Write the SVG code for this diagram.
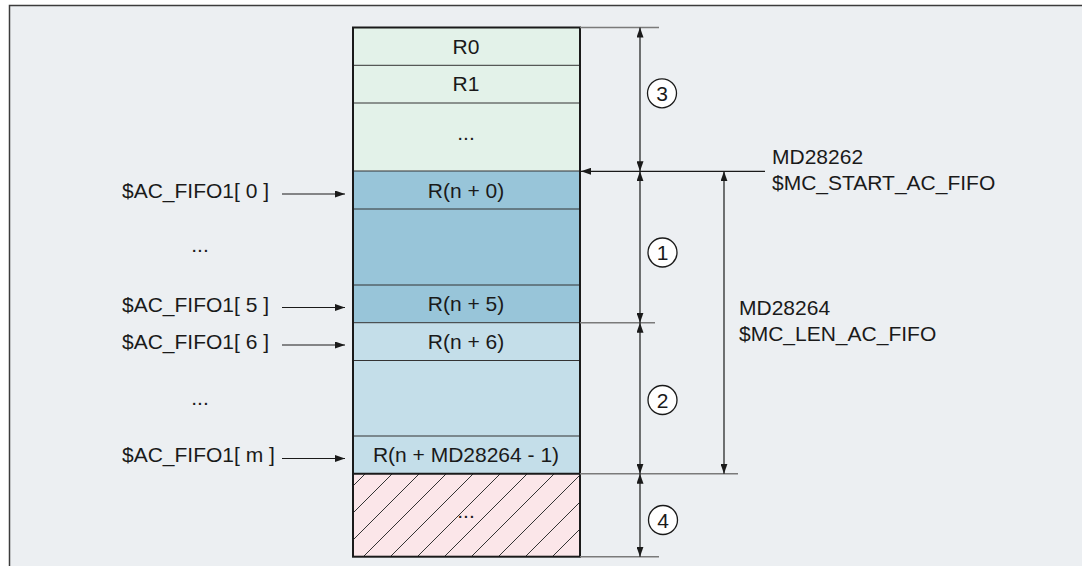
<svg xmlns="http://www.w3.org/2000/svg" width="1082" height="566" viewBox="0 0 1082 566">
<style>
text{font-family:"Liberation Sans",Arial,sans-serif;font-size:21px;fill:#1a1a1a}
.c{text-anchor:middle}
.row{stroke:#333;stroke-width:1}
.ext{stroke:#7a7a7a;stroke-width:1.5;fill:none}
.dim{stroke:#1a1a1a;stroke-width:1.2;fill:none;marker-start:url(#ah);marker-end:url(#ah)}
.arr{stroke:#1a1a1a;stroke-width:1.2;fill:none;marker-end:url(#ah)}
.num{fill:#fff;stroke:#1a1a1a;stroke-width:1.3}
</style>
<defs>
<marker id="ah" markerUnits="userSpaceOnUse" markerWidth="10" markerHeight="7" refX="10" refY="3.5" orient="auto-start-reverse">
<path d="M0,0 L10,3.5 L0,7 z" fill="#1a1a1a"/>
</marker>
<pattern id="hatch" patternUnits="userSpaceOnUse" x="353" y="0" width="27" height="27">
<rect width="27" height="27" fill="#FBE6E9"/>
<path d="M-1,28 L28,-1 M-14,14 L14,-14 M13,41 L41,13" stroke="#333" stroke-width="1"/>
</pattern>
</defs>
<rect x="9.5" y="5.5" width="1080" height="570" fill="#ECEFF2" stroke="#3c3c3c" stroke-width="1.5"/>

<g id="column">
<g id="seg-green">
<rect x="353" y="27.5" width="227" height="143.5" fill="#E3F2E9"/>
<line class="row" x1="353" y1="65.3" x2="580" y2="65.3"/>
<line class="row" x1="353" y1="103" x2="580" y2="103"/>
<text class="c" x="466" y="53.5">R0</text>
<text class="c" x="466" y="91">R1</text>
<text class="c" x="466" y="140">...</text>
</g>
<g id="seg-dark">
<rect x="353" y="171" width="227" height="151.7" fill="#98C5D9"/>
<line class="row" x1="353" y1="209" x2="580" y2="209"/>
<line class="row" x1="353" y1="285" x2="580" y2="285"/>
<line class="row" x1="353" y1="171" x2="580" y2="171"/>
<text class="c" x="466" y="197.5">R(n + 0)</text>
<text class="c" x="466" y="311">R(n + 5)</text>
</g>
<g id="seg-light">
<rect x="353" y="322.7" width="227" height="151" fill="#C4DEE9"/>
<line class="row" x1="353" y1="322.7" x2="580" y2="322.7"/>
<line class="row" x1="353" y1="360.5" x2="580" y2="360.5"/>
<line class="row" x1="353" y1="436" x2="580" y2="436"/>
<text class="c" x="466" y="348.5">R(n + 6)</text>
<text class="c" x="466" y="461.5">R(n + MD28264 - 1)</text>
</g>
<g id="seg-hatch">
<rect x="353" y="473.7" width="227" height="83" fill="url(#hatch)"/>
<line x1="353" y1="473.7" x2="580" y2="473.7" stroke="#1a1a1a" stroke-width="2"/>
<text class="c" x="466" y="518">...</text>
</g>
<rect x="353" y="27.5" width="227" height="529.2" fill="none" stroke="#1a1a1a" stroke-width="2"/>
</g>

<g id="left-labels">
<text x="122" y="198">$AC_FIFO1[ 0 ]</text>
<text class="c" x="200" y="252">...</text>
<text x="122" y="311.5">$AC_FIFO1[ 5 ]</text>
<text x="122" y="349">$AC_FIFO1[ 6 ]</text>
<text class="c" x="200" y="405">...</text>
<text x="122" y="462">$AC_FIFO1[ m ]</text>
</g>

<g id="right-labels">
<text x="772" y="164">MD28262</text>
<text x="772" y="190">$MC_START_AC_FIFO</text>
<text x="739" y="315">MD28264</text>
<text x="739" y="341">$MC_LEN_AC_FIFO</text>
</g>

<g id="callouts">
<g id="c3"><circle class="num" cx="662" cy="93.3" r="14.5"/><text class="c" x="662" y="101">3</text></g>
<g id="c1"><circle class="num" cx="662.5" cy="252.5" r="14.5"/><text class="c" x="662.5" y="260">1</text></g>
<g id="c2"><circle class="num" cx="662.5" cy="400" r="14.5"/><text class="c" x="662.5" y="407.5">2</text></g>
<g id="c4"><circle class="num" cx="663" cy="520" r="14.5"/><text class="c" x="663" y="527.5">4</text></g>
</g>

<g id="connectors">
<line class="ext" x1="580" y1="27.5" x2="659" y2="27.5"/>
<line class="ext" x1="580" y1="322.7" x2="655" y2="322.7"/>
<line class="ext" x1="580" y1="473.7" x2="738" y2="473.7"/>
<line class="ext" x1="580" y1="556.7" x2="659" y2="556.7"/>
<line class="arr" x1="765" y1="171.3" x2="581" y2="171.3"/>
<line class="dim" x1="640" y1="27.5" x2="640" y2="171.3"/>
<line class="dim" x1="640" y1="171.3" x2="640" y2="322.7"/>
<line class="dim" x1="640" y1="322.7" x2="640" y2="473.7"/>
<line class="dim" x1="640" y1="473.7" x2="640" y2="556.7"/>
<line class="dim" x1="724" y1="171.3" x2="724" y2="473.7"/>
<line class="arr" x1="282" y1="194" x2="345" y2="194"/>
<line class="arr" x1="282" y1="307.5" x2="345" y2="307.5"/>
<line class="arr" x1="282" y1="345" x2="345" y2="345"/>
<line class="arr" x1="282" y1="458.5" x2="345" y2="458.5"/>
</g>
</svg>
